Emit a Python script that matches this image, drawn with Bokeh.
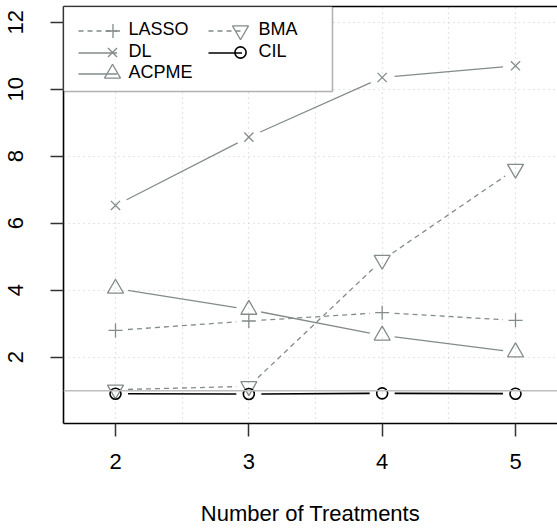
import math
from bokeh.plotting import figure
from bokeh.models import (Range1d, FixedTicker, LinearAxis, Span, Legend, LegendItem,
                          BoxAnnotation, Label)
from bokeh.embed import file_html
from bokeh.resources import INLINE

# ---- data ----
treatments = [2, 3, 4, 5]
lasso = [2.80, 3.08, 3.33, 3.10]
dl = [6.53, 8.57, 10.35, 10.70]
acpme = [4.05, 3.42, 2.65, 2.15]
bma = [1.03, 1.13, 4.90, 7.62]
cil = [0.91, 0.90, 0.92, 0.91]
x_ticks = [2, 3, 4, 5]
y_ticks = [2, 4, 6, 8, 10, 12]
x_grid_ticks = [2, 2.5, 3, 3.5, 4, 4.5, 5]
reference_level = 1
x_label = "Number of Treatments"
legend_col1 = ["LASSO", "DL", "ACPME"]
legend_col2 = ["BMA", "CIL"]

# ---- layout ----
W, H = 557, 528
LEFT, TOP, BOTTOM, RIGHT = 63, 6, 105, 0
x0, x1 = 1.61, 5.315
y0, y1 = 0.02, 12.47
FONT = "Liberation Sans"
GRAY = "#838B8B"
FS = "22px"

p = figure(width=W, height=H, output_backend="svg", toolbar_location=None,
           x_range=Range1d(x0, x1), y_range=Range1d(y0, y1),
           min_border_left=LEFT, min_border_top=TOP,
           min_border_bottom=BOTTOM, min_border_right=RIGHT)
p.outline_line_color = None
p.background_fill_color = "white"
p.border_fill_color = "white"

frame_w = W - LEFT - RIGHT
frame_h = H - TOP - BOTTOM
kx = frame_w / (x1 - x0)
ky = frame_h / (y1 - y0)

# axes
for ax in (p.xaxis[0], p.yaxis[0]):
    ax.axis_line_color = "black"
    ax.axis_line_width = 1.6
    ax.major_tick_line_color = "#333333"
    ax.major_tick_line_width = 1.5
    ax.major_tick_in = 0
    ax.major_tick_out = 13
    ax.minor_tick_line_color = None
    ax.major_label_text_font = FONT
    ax.major_label_text_font_size = FS
    ax.major_label_text_color = "black"

p.xaxis.ticker = FixedTicker(ticks=x_ticks)
p.yaxis.ticker = FixedTicker(ticks=y_ticks)
p.xaxis.major_label_standoff = 17
p.yaxis.major_label_standoff = 27
p.yaxis.major_label_orientation = "parallel"
p.xaxis.axis_label = x_label
p.xaxis.axis_label_text_font = FONT
p.xaxis.axis_label_text_font_size = FS
p.xaxis.axis_label_text_font_style = "normal"
p.xaxis.axis_label_text_color = "black"
p.xaxis.axis_label_text_line_height = 1.0
p.xaxis.axis_label_standoff = 29

top_axis = LinearAxis(ticker=FixedTicker(ticks=[]), axis_line_color="black",
                      axis_line_width=1.6, major_tick_line_color=None,
                      minor_tick_line_color=None, major_label_text_font_size="0px")
p.add_layout(top_axis, "above")

# grids
p.xgrid.ticker = FixedTicker(ticks=x_grid_ticks)
p.ygrid.ticker = FixedTicker(ticks=y_ticks)
for g in (p.xgrid[0], p.ygrid[0]):
    g.grid_line_color = "#CCCCCC"
    g.grid_line_dash = "1 4"
    g.grid_line_width = 1.2

p.add_layout(Span(location=reference_level, dimension="width",
                  line_color="#BEBEBE", line_width=1.5))

GAP = 12.5  # px gap around points (R type="b")


def gapped(xs, ys):
    sx0, sy0, sx1, sy1 = [], [], [], []
    for i in range(len(xs) - 1):
        dxp = (xs[i + 1] - xs[i]) * kx
        dyp = (ys[i + 1] - ys[i]) * ky
        L = math.hypot(dxp, dyp)
        if L <= 2 * GAP:
            continue
        t = GAP / L
        ddx = xs[i + 1] - xs[i]
        ddy = ys[i + 1] - ys[i]
        sx0.append(xs[i] + t * ddx)
        sy0.append(ys[i] + t * ddy)
        sx1.append(xs[i + 1] - t * ddx)
        sy1.append(ys[i + 1] - t * ddy)
    return sx0, sy0, sx1, sy1


series = [
    ("LASSO", lasso, GRAY, "5 4", "cross", 14, 1.3),
    ("DL", dl, GRAY, "solid", "x", 13, 1.3),
    ("ACPME", acpme, GRAY, "solid", "triangle", 16, 1.3),
    ("BMA", bma, GRAY, "5 4", "inverted_triangle", 16, 1.3),
    ("CIL", cil, "black", "solid", "circle", 11, 1.6),
]

seg_r = {}
mk_r = {}
mk_size = {}
for name, ys, col, dash, marker, size, lw in series:
    a, b, c, d = gapped(treatments, ys)
    seg_r[name] = p.segment(a, b, c, d, line_color=col, line_width=lw, line_dash=dash)
    mk_r[name] = p.scatter(treatments, ys, marker=marker, size=size,
                           line_color=col, fill_color=None, line_width=lw)
    mk_size[name] = size

# ---- legend (box + glyph swatches + text) ----
LEG_LEFT, LEG_TOP, LEG_RIGHT, LEG_BOTTOM = 63, 6, 332, 91
FRAME_BOTTOM = H - BOTTOM
p.add_layout(BoxAnnotation(left=LEG_LEFT - LEFT, right=LEG_RIGHT - LEFT,
                           top=FRAME_BOTTOM - LEG_TOP, bottom=FRAME_BOTTOM - LEG_BOTTOM,
                           left_units="screen", right_units="screen",
                           top_units="screen", bottom_units="screen",
                           fill_color="white", fill_alpha=1.0,
                           line_color="black", line_width=1.6))

ROWS = [28, 50, 71]
YFIX = 2


def swatch(renderer, cx, cy, w, h):
    lg = Legend(items=[LegendItem(label=" ", renderers=[renderer])],
                location=(cx - w / 2 - LEFT, FRAME_BOTTOM - (cy + YFIX) - h / 2))
    lg.padding = 0
    lg.spacing = 0
    lg.margin = 0
    lg.glyph_width = w
    lg.glyph_height = h
    lg.label_height = h
    lg.label_width = 0
    lg.label_standoff = 0
    lg.label_text_font_size = "1px"
    lg.border_line_color = None
    lg.background_fill_alpha = 0
    p.add_layout(lg, "center")


def legend_text(txt, sx, cy):
    p.add_layout(Label(x=sx - LEFT, y=FRAME_BOTTOM - cy, x_units="screen",
                       y_units="screen", text=txt, text_font=FONT,
                       text_font_size="18px", text_baseline="middle",
                       text_align="left", text_color="black"))


for i, n in enumerate(legend_col1):
    swatch(seg_r[n], (78 + 117) / 2, ROWS[i], 39, 21)
    box = int(round(mk_size[n] / 0.4))
    swatch(mk_r[n], 112, ROWS[i], box, box)
    legend_text(n, 128, ROWS[i])
for i, n in enumerate(legend_col2):
    swatch(seg_r[n], (208 + 242) / 2, ROWS[i], 34, 21)
    box = int(round(mk_size[n] / 0.4))
    swatch(mk_r[n], 240, ROWS[i], box, box)
    legend_text(n, 258, ROWS[i])

open("out.html", "w").write(file_html(p, INLINE))
